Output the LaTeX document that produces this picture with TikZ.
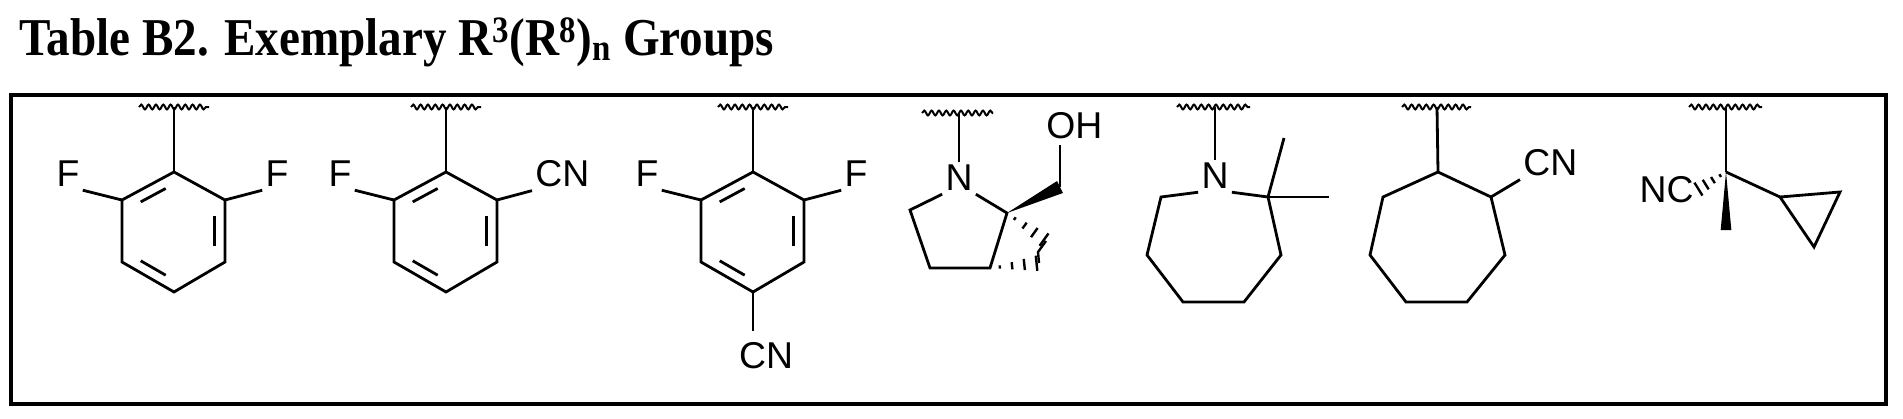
\documentclass[tikz,border=0pt]{standalone}
\usepackage{fontspec}
\setmainfont{Liberation Serif}
\newfontfamily\atomfont{Liberation Sans}
\usetikzlibrary{calc,decorations.pathmorphing}
\newcommand{\dbl}[3]{\draw ($($(#1)!0.2!(#2)$)!0.2!(#3)$) -- ($($(#2)!0.2!(#1)$)!0.2!(#3)$);}
\newcommand{\wedgebond}[3]{\fill (#1) -- ($(#2)!#3!90:(#1)$) -- ($(#2)!#3!-90:(#1)$) -- cycle;}
\newcommand{\hashbond}[3]{\foreach \t in {0.2,0.45,0.7,0.95}{\path (#1) -- (#2) coordinate[pos=\t](hp); \draw[line width=1.8pt] ($(hp)!{\t*#3}!90:(#2)$) -- ($(hp)!{\t*#3}!-90:(#2)$);}}
\begin{document}
\begin{tikzpicture}[x=0.75pt,y=-0.75pt,line width=2.1pt,
  atom/.style={font=\atomfont\fontsize{28pt}{30pt}\selectfont,inner sep=1.5pt},
  wavy/.style={line width=1.5pt,decorate,decoration={snake,segment length=5.5pt,amplitude=1.8pt}}]
\useasboundingbox (0,0) rectangle (1903,418);
\node[anchor=base west,inner sep=0,font=\bfseries\fontsize{38pt}{40pt}\selectfont] (title) at (18,55) {\scalebox{0.93}[1.05]{Table B2. Exemplary R\textsuperscript{3}(R\textsuperscript{8})\textsubscript{n} Groups}};
\draw[line width=2.6pt] (11,95) rectangle (1886,404);
% ---- structure 1
\coordinate (a1) at (174,172); \coordinate (a2) at (225,200); \coordinate (a3) at (225,262);
\coordinate (a4) at (174,292); \coordinate (a5) at (122,262); \coordinate (a6) at (122,200);
\coordinate (ao) at (174,232);
\draw[wavy] (139,107) -- (209,107);
\draw (174,107) -- (a1);
\draw (a1)--(a2)--(a3)--(a4)--(a5)--(a6)--cycle;
\dbl{a6}{a1}{ao}\dbl{a2}{a3}{ao}\dbl{a4}{a5}{ao}
\node[atom] (F1) at (68,174) {F}; \node[atom] (F2) at (277,174) {F};
\draw (a6) -- (F1.south east); \draw (a2) -- (F2.south west);
% ---- structure 2
\coordinate (b1) at (446,172); \coordinate (b2) at (497,200); \coordinate (b3) at (497,262);
\coordinate (b4) at (446,292); \coordinate (b5) at (394,262); \coordinate (b6) at (394,200);
\coordinate (bo) at (446,232);
\draw[wavy] (411,107) -- (481,107);
\draw (446,107) -- (b1);
\draw (b1)--(b2)--(b3)--(b4)--(b5)--(b6)--cycle;
\dbl{b6}{b1}{bo}\dbl{b2}{b3}{bo}\dbl{b4}{b5}{bo}
\node[atom] (F3) at (340,174) {F}; \node[atom,anchor=west] (CN1) at (532,174) {CN};
\draw (b6) -- (F3.south east); \draw (b2) -- (CN1.south west);
% ---- structure 3
\coordinate (c1) at (753,172); \coordinate (c2) at (804,200); \coordinate (c3) at (804,262);
\coordinate (c4) at (753,292); \coordinate (c5) at (701,262); \coordinate (c6) at (701,200);
\coordinate (co) at (753,232);
\draw[wavy] (718,107) -- (788,107);
\draw (753,107) -- (c1);
\draw (c1)--(c2)--(c3)--(c4)--(c5)--(c6)--cycle;
\dbl{c6}{c1}{co}\dbl{c2}{c3}{co}\dbl{c4}{c5}{co}
\node[atom] (F4) at (647,174) {F}; \node[atom] (F5) at (856,174) {F};
\draw (c6) -- (F4.south east); \draw (c2) -- (F5.south west);
\node[atom] (CN2) at (766,356) {CN};
\draw (c4) -- (753,331);
% ---- structure 4
\draw[wavy] (922,113) -- (993,113);
\node[atom] (N1) at (959,178) {N};
\draw (959,113) -- (N1);
\coordinate (d2) at (1007,213); \coordinate (d3) at (990,268); \coordinate (d4) at (930,268); \coordinate (d5) at (910,210);
\draw (N1.south east) -- (d2) -- (d3) -- (d4) -- (d5) -- (N1.south west);
\coordinate (d6) at (1060,187);
\wedgebond{d2}{d6}{5pt}
\node[atom,anchor=west] (OH) at (1043,126) {OH};
\draw (d6) -- (1060,145);
\coordinate (e1) at (1046,241); \coordinate (e2) at (1038,252); \coordinate (e3) at (1039,263);
\draw[line width=1.8pt] (e1) -- (e2) -- (e3);
\hashbond{d2}{e1}{6pt}
\hashbond{d3}{e3}{6pt}
% ---- structure 5
\draw[wavy] (1177,107) -- (1250,107);
\node[atom] (N2) at (1215,176) {N};
\draw (1215,107) -- (N2);
\coordinate (f2) at (1268,197); \coordinate (f3) at (1281,255); \coordinate (f4) at (1244,302);
\coordinate (f5) at (1183,302); \coordinate (f6) at (1147,255); \coordinate (f7) at (1161,197);
\draw (N2.south east) -- (f2) -- (f3) -- (f4) -- (f5) -- (f6) -- (f7) -- (N2.south west);
\draw (f2) -- (1284,138); \draw (f2) -- (1329,197);
% ---- structure 6
\draw[wavy] (1402,107) -- (1471,107);
\coordinate (g1) at (1438,172); \coordinate (g2) at (1491,197); \coordinate (g3) at (1505,255);
\coordinate (g4) at (1467,302); \coordinate (g5) at (1406,302); \coordinate (g6) at (1370,255); \coordinate (g7) at (1383,197);
\draw (1437,107) -- (g1);
\draw (g1)--(g2)--(g3)--(g4)--(g5)--(g6)--(g7)--cycle;
\node[atom,anchor=west] (CN3) at (1520,163) {CN};
\draw (g2) -- (CN3.south west);
% ---- structure 7
\draw[wavy] (1689,107) -- (1762,107);
\coordinate (h1) at (1726,172);
\draw (1726,107) -- (h1);
\coordinate (h0) at (1726,230);
\wedgebond{h1}{h0}{4pt}
\node[atom,anchor=east] (NC) at (1697,190) {NC};
\hashbond{h1}{NC.east}{6pt}
\coordinate (h2) at (1780,197); \coordinate (h3) at (1840,192); \coordinate (h4) at (1814,247);
\draw (h1) -- (h2);
\draw (h2) -- (h3) -- (h4) -- cycle;
\end{tikzpicture}
\end{document}
